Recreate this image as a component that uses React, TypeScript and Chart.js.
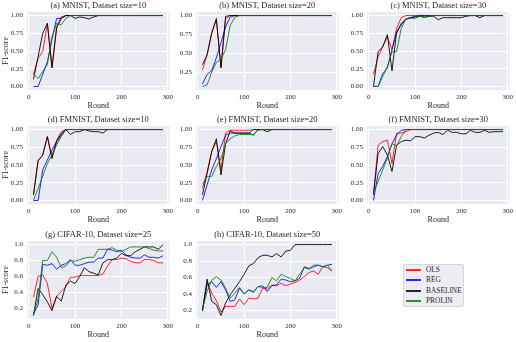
import React, { useEffect, useRef } from "react";
import { Chart, registerables } from "chart.js";

Chart.register(...registerables);

// ---------------- data ----------------
const ROUNDS = [10, 20, 30, 40, 50, 60, 70, 80, 90, 100, 110, 120, 130, 140, 150, 160, 170, 180, 190, 200, 210, 220, 230, 240, 250, 260, 270, 280, 290];
const X_TICKS = [0, 100, 200, 300];
const Y_TICKS_F1 = [0, 0.25, 0.5, 0.75, 1.0];
const Y_TICKS_CIFAR = [0.2, 0.4, 0.6, 0.8, 1.0];
const SERIES_NAMES = ["OLS", "REG", "BASELINE", "PROLIN"];
const TITLES = [
  "(a) MNIST, Dataset size=10",
  "(b) MNIST, Dataset size=20",
  "(c) MNIST, Dataset size=30",
  "(d) FMNIST, Dataset size=10",
  "(e) FMNIST, Dataset size=20",
  "(f) FMNIST, Dataset size=30",
  "(g) CIFAR-10, Dataset size=25",
  "(h) CIFAR-10, Dataset size=50",
];

const A_OLS = [0.17, 0.40, 0.49, 0.89, 0.28, 0.84, 0.98, 1, 1, 1, 1, 1, 1, 1, 1, 1, 1, 1, 1, 1, 1, 1, 1, 1, 1, 1, 1, 1, 1];
const A_REG = [0, 0, 0.17, 0.35, 0.66, 0.96, 0.96, 1, 1, 1, 1, 1, 1, 1, 1, 1, 1, 1, 1, 1, 1, 1, 1, 1, 1, 1, 1, 1, 1];
const A_BASE = [0.10, 0.42, 0.75, 0.89, 0.26, 0.82, 0.96, 1, 1, 0.96, 0.98, 0.97, 0.95, 0.98, 1, 1, 1, 1, 1, 1, 1, 1, 1, 1, 1, 1, 1, 1, 1];
const A_PROLIN = [0.18, 0.11, 0.21, 0.31, 0.70, 0.89, 0.87, 0.96, 1, 1, 1, 1, 1, 1, 1, 1, 1, 1, 1, 1, 1, 1, 1, 1, 1, 1, 1, 1, 1];

const B_OLS = [0.28, 0.48, 0.77, 0.94, 0.31, 0.96, 1, 1, 1, 1, 1, 1, 1, 1, 1, 1, 1, 1, 1, 1, 1, 1, 1, 1, 1, 1, 1, 1, 1];
const B_REG = [0.09, 0.22, 0.27, 0.44, 0.64, 0.85, 0.98, 1, 1, 1, 1, 1, 1, 1, 1, 1, 1, 1, 1, 1, 1, 1, 1, 1, 1, 1, 1, 1, 1];
const B_BASE = [0.35, 0.48, 0.77, 0.96, 0.31, 0.99, 1, 1, 1, 1, 1, 1, 1, 1, 1, 1, 1, 1, 1, 1, 1, 1, 1, 1, 1, 1, 1, 1, 1];
const B_PROLIN = [0.06, 0.08, 0.25, 0.38, 0.42, 0.55, 0.87, 0.98, 1, 1, 1, 1, 1, 1, 1, 1, 1, 1, 1, 1, 1, 1, 1, 1, 1, 1, 1, 1, 1];

const C_OLS = [0.17, 0.42, 0.56, 0.70, 0.52, 0.82, 0.97, 1, 1, 1, 1, 1, 1, 1, 1, 1, 1, 1, 1, 1, 1, 1, 1, 1, 1, 1, 1, 1, 1];
const C_REG = [0, 0, 0.18, 0.26, 0.52, 0.75, 0.89, 0.95, 0.97, 0.99, 1, 1, 1, 1, 1, 1, 1, 1, 1, 1, 1, 1, 1, 1, 1, 1, 1, 1, 1];
const C_BASE = [0, 0.49, 0.56, 0.73, 0.22, 0.77, 0.87, 0.95, 0.97, 0.98, 0.99, 0.98, 0.99, 0.99, 0.94, 0.97, 0.97, 0.97, 0.97, 0.97, 0.99, 1, 1, 0.97, 1, 1, 1, 1, 1];
const C_PROLIN = [0, 0, 0.14, 0.28, 0.49, 0.49, 0.82, 0.95, 0.96, 0.96, 0.99, 0.97, 0.99, 1, 1, 1, 1, 1, 1, 1, 1, 1, 1, 1, 1, 1, 1, 1, 1];

const D_OLS = [0.08, 0.56, 0.64, 0.90, 0.62, 0.85, 0.97, 1, 1, 1, 1, 1, 1, 1, 1, 1, 1, 1, 1, 1, 1, 1, 1, 1, 1, 1, 1, 1, 1];
const D_REG = [0, 0, 0.43, 0.57, 0.71, 0.83, 0.92, 1, 1, 1, 1, 1, 1, 1, 1, 1, 1, 1, 1, 1, 1, 1, 1, 1, 1, 1, 1, 1, 1];
const D_BASE = [0.08, 0.56, 0.64, 0.90, 0.59, 0.83, 0.94, 1, 0.93, 0.97, 0.97, 1, 0.98, 0.97, 0.97, 0.95, 1, 1, 1, 1, 1, 1, 1, 1, 1, 1, 1, 1, 1];
const D_PROLIN = [0, 0.17, 0.34, 0.52, 0.64, 0.78, 0.90, 1, 1, 1, 1, 1, 1, 1, 1, 1, 1, 1, 1, 1, 1, 1, 1, 1, 1, 1, 1, 1, 1];

const E_OLS = [0.17, 0.40, 0.69, 0.83, 0.43, 0.95, 0.99, 0.99, 0.99, 0.99, 0.99, 1, 1, 1, 1, 1, 1, 1, 1, 1, 1, 1, 1, 1, 1, 1, 1, 1, 1];
const E_REG = [0, 0.22, 0.43, 0.59, 0.76, 0.92, 0.95, 0.95, 0.95, 0.95, 0.95, 1, 1, 1, 1, 1, 1, 1, 1, 1, 1, 1, 1, 1, 1, 1, 1, 1, 1];
const E_BASE = [0.08, 0.38, 0.69, 0.87, 0.36, 0.80, 0.98, 0.95, 0.95, 0.95, 0.95, 0.92, 1, 1, 0.97, 1, 1, 1, 1, 1, 1, 1, 1, 1, 1, 1, 1, 1, 1];
const E_PROLIN = [0.23, 0.34, 0.34, 0.48, 0.59, 0.80, 0.87, 0.91, 0.93, 0.93, 0.93, 0.93, 0.99, 1, 1, 1, 1, 1, 1, 1, 1, 1, 1, 1, 1, 1, 1, 1, 1];

const F_OLS = [0.08, 0.78, 0.83, 0.85, 0.52, 0.95, 0.95, 0.97, 1, 1, 1, 1, 1, 1, 1, 1, 1, 1, 1, 1, 1, 1, 1, 1, 1, 1, 1, 1, 1];
const F_REG = [0, 0.38, 0.48, 0.62, 0.80, 0.92, 0.99, 1, 1, 1, 1, 1, 1, 1, 1, 1, 1, 1, 1, 1, 1, 1, 1, 1, 1, 1, 1, 1, 1];
const F_BASE = [0.08, 0.66, 0.76, 0.64, 0.41, 0.78, 0.83, 0.85, 0.84, 0.90, 0.90, 0.88, 0.92, 0.95, 0.96, 0.93, 0.99, 0.96, 0.96, 0.94, 0.94, 0.99, 0.96, 0.96, 0.99, 0.96, 0.97, 0.97, 0.97];
const F_PROLIN = [0.10, 0.27, 0.43, 0.60, 0.80, 0.77, 0.90, 1, 1, 1, 1, 1, 1, 1, 1, 1, 1, 1, 1, 1, 1, 1, 1, 1, 1, 1, 1, 1, 1];

const G_OLS = [0.34, 0.60, 0.62, 0.51, 0.20, 0.35, 0.41, 0.47, 0.59, 0.59, 0.61, 0.61, 0.61, 0.61, 0.61, 0.63, 0.73, 0.81, 0.81, 0.83, 0.82, 0.79, 0.77, 0.77, 0.81, 0.81, 0.80, 0.77, 0.77];
const G_REG = [0.13, 0.24, 0.75, 0.74, 0.76, 0.69, 0.74, 0.76, 0.81, 0.74, 0.74, 0.76, 0.78, 0.78, 0.83, 0.83, 0.94, 0.93, 0.91, 0.93, 0.87, 0.84, 0.83, 0.83, 0.87, 0.84, 0.84, 0.83, 0.86];
const G_BASE = [0.11, 0.45, 0.37, 0.28, 0.17, 0.35, 0.29, 0.49, 0.54, 0.51, 0.60, 0.71, 0.66, 0.64, 0.62, 0.77, 0.81, 0.81, 0.83, 0.89, 0.86, 0.86, 0.91, 0.94, 0.97, 0.97, 0.97, 0.94, 1.0];
const G_PROLIN = [0.11, 0.32, 0.80, 0.80, 0.91, 0.84, 0.71, 0.73, 0.80, 0.79, 0.81, 0.83, 0.84, 0.84, 0.94, 0.94, 0.94, 0.96, 0.93, 0.91, 0.94, 0.97, 0.97, 0.97, 0.97, 0.95, 0.93, 0.92, 0.92];

const H_OLS = [0.20, 0.55, 0.41, 0.32, 0.18, 0.25, 0.25, 0.25, 0.34, 0.27, 0.35, 0.34, 0.35, 0.47, 0.46, 0.51, 0.50, 0.53, 0.50, 0.52, 0.54, 0.57, 0.61, 0.66, 0.68, 0.64, 0.73, 0.72, 0.68];
const H_REG = [0.20, 0.51, 0.55, 0.48, 0.55, 0.45, 0.31, 0.33, 0.47, 0.40, 0.45, 0.42, 0.49, 0.50, 0.43, 0.50, 0.51, 0.58, 0.57, 0.55, 0.56, 0.59, 0.73, 0.71, 0.73, 0.75, 0.73, 0.75, 0.76];
const H_BASE = [0.20, 0.58, 0.31, 0.27, 0.14, 0.29, 0.39, 0.47, 0.55, 0.64, 0.74, 0.77, 0.84, 0.87, 0.87, 0.85, 0.89, 0.85, 0.92, 0.93, 1, 1, 1, 1, 1, 1, 1, 1, 1];
const H_PROLIN = [0.22, 0.43, 0.57, 0.61, 0.57, 0.47, 0.35, 0.41, 0.48, 0.40, 0.45, 0.43, 0.49, 0.48, 0.48, 0.60, 0.56, 0.64, 0.61, 0.59, 0.56, 0.64, 0.72, 0.70, 0.75, 0.75, 0.73, 0.75, 0.68];

// ---------------- panel configuration ----------------
type PanelCfg = {
  title: string;
  series: number[][];
  yTicks: number[];
  decimals: number;
  row: number;
  col: number;
};

const PANELS: PanelCfg[] = [
  { title: TITLES[0], series: [A_OLS, A_REG, A_BASE, A_PROLIN], yTicks: Y_TICKS_F1, decimals: 2, row: 0, col: 0 },
  { title: TITLES[1], series: [B_OLS, B_REG, B_BASE, B_PROLIN], yTicks: Y_TICKS_F1, decimals: 2, row: 0, col: 1 },
  { title: TITLES[2], series: [C_OLS, C_REG, C_BASE, C_PROLIN], yTicks: Y_TICKS_F1, decimals: 2, row: 0, col: 2 },
  { title: TITLES[3], series: [D_OLS, D_REG, D_BASE, D_PROLIN], yTicks: Y_TICKS_F1, decimals: 2, row: 1, col: 0 },
  { title: TITLES[4], series: [E_OLS, E_REG, E_BASE, E_PROLIN], yTicks: Y_TICKS_F1, decimals: 2, row: 1, col: 1 },
  { title: TITLES[5], series: [F_OLS, F_REG, F_BASE, F_PROLIN], yTicks: Y_TICKS_F1, decimals: 2, row: 1, col: 2 },
  { title: TITLES[6], series: [G_OLS, G_REG, G_BASE, G_PROLIN], yTicks: Y_TICKS_CIFAR, decimals: 1, row: 2, col: 0 },
  { title: TITLES[7], series: [H_OLS, H_REG, H_BASE, H_PROLIN], yTicks: Y_TICKS_CIFAR, decimals: 1, row: 2, col: 1 },
];

const COLORS = ["rgba(255,0,0,0.85)", "rgba(0,0,255,0.85)", "rgba(0,0,0,0.88)", "rgba(0,128,0,0.85)"];
const LEGEND_COLORS = ["#ff2626", "#2626ff", "#262626", "#26932a"];
const FONT = "'Liberation Serif', 'Times New Roman', serif";
const TEXT = "#262626";
const BG = "#EAEAF2";

const PLOT_LEFT = [27, 196, 367];
const PLOT_TOP = [12, 126, 241];
const PLOT_W = 143;
const PLOT_H = 78;
const AXIS_W = 27;
const TITLE_SPACE = 12;
const XAXIS_H = 21;
const RIGHT_PAD = 6;

const bgPlugin = {
  id: "bgArea",
  beforeDraw(chart: any) {
    const { ctx, chartArea } = chart;
    ctx.save();
    ctx.fillStyle = BG;
    ctx.fillRect(chartArea.left, chartArea.top, chartArea.right - chartArea.left, chartArea.bottom - chartArea.top);
    ctx.restore();
  },
};

function Panel({ panel }: { panel: PanelCfg }) {
  const ref = useRef<HTMLCanvasElement | null>(null);
  const width = AXIS_W + PLOT_W + RIGHT_PAD;
  const height = TITLE_SPACE + PLOT_H + XAXIS_H;

  useEffect(() => {
    if (!ref.current) return;
    const all = panel.series.flat();
    const ymin = Math.min(...all);
    const ymax = Math.max(...all);
    const ym = (ymax - ymin) * 0.05;
    const xmin0 = Math.min(...ROUNDS);
    const xmax0 = Math.max(...ROUNDS);
    const xm = (xmax0 - xmin0) * 0.05;

    const titlePlugin = {
      id: "panelTitle",
      afterDraw(chart: any) {
        const { ctx, chartArea } = chart;
        ctx.save();
        ctx.font = `8.5px ${FONT}`;
        ctx.fillStyle = TEXT;
        ctx.textAlign = "center";
        ctx.textBaseline = "middle";
        ctx.fillText(panel.title, (chartArea.left + chartArea.right) / 2, chartArea.top - 6);
        ctx.restore();
      },
    };

    const chart = new Chart(ref.current, {
      type: "line",
      data: {
        datasets: panel.series.map((vals, i) => ({
          label: SERIES_NAMES[i],
          data: ROUNDS.map((r, j) => ({ x: r, y: vals[j] })),
          borderColor: COLORS[i],
          backgroundColor: COLORS[i],
          borderWidth: 1,
          pointRadius: 0,
          tension: 0,
          fill: false,
          order: 3 - i,
        })),
      },
      options: {
        responsive: false,
        animation: false,
        devicePixelRatio: 1,
        layout: { padding: { top: TITLE_SPACE, right: RIGHT_PAD, left: 0, bottom: 0 } },
        plugins: {
          legend: { display: false },
          tooltip: { enabled: false },
          title: { display: false },
        },
        scales: {
          x: {
            type: "linear",
            min: xmin0 - xm,
            max: xmax0 + xm,
            afterBuildTicks: (s: any) => {
              s.ticks = X_TICKS.filter((v) => v >= s.min && v <= s.max).map((v) => ({ value: v }));
            },
            afterFit: (s: any) => {
              s.height = XAXIS_H;
            },
            grid: { color: "#ffffff", lineWidth: 1, drawTicks: false },
            border: { display: false },
            ticks: {
              padding: 3,
              color: TEXT,
              font: { family: FONT, size: 7 },
              maxRotation: 0,
              autoSkip: false,
              callback: (v: any) => String(v),
            },
            title: { display: true, text: "Round", color: TEXT, font: { family: FONT, size: 8 }, padding: 0 },
          },
          y: {
            type: "linear",
            min: ymin - ym,
            max: ymax + ym,
            afterBuildTicks: (s: any) => {
              s.ticks = panel.yTicks.filter((v) => v >= s.min && v <= s.max).map((v) => ({ value: v }));
            },
            afterFit: (s: any) => {
              s.width = AXIS_W;
            },
            grid: { color: "#ffffff", lineWidth: 1, drawTicks: false },
            border: { display: false },
            ticks: {
              padding: 4,
              color: TEXT,
              font: { family: FONT, size: 7 },
              autoSkip: false,
              callback: (v: any) => Number(v).toFixed(panel.decimals),
            },
            title: {
              display: panel.col === 0,
              text: "F1-score",
              color: TEXT,
              font: { family: FONT, size: 8 },
              padding: { top: 1, bottom: 0 },
            },
          },
        },
      } as any,
      plugins: [bgPlugin, titlePlugin],
    });
    return () => chart.destroy();
  }, [panel]);

  return (
    <canvas
      ref={ref}
      width={width}
      height={height}
      style={{
        position: "absolute",
        left: PLOT_LEFT[panel.col] - AXIS_W,
        top: PLOT_TOP[panel.row] - TITLE_SPACE,
        width,
        height,
      }}
    />
  );
}

function Legend() {
  return (
    <div
      style={{
        position: "absolute",
        left: 403,
        top: 264,
        width: 61,
        height: 43,
        background: "#EDEDF3",
        border: "1px solid #d6d6dc",
        borderRadius: 2,
        boxSizing: "border-box",
        fontFamily: FONT,
        fontSize: 7.4,
        color: TEXT,
      }}
    >
      {SERIES_NAMES.map((name, i) => {
        const lineTop = Math.round(4 + i * 10.3);
        return (
          <React.Fragment key={name}>
            <div
              style={{
                position: "absolute",
                left: 2,
                top: lineTop,
                width: 15,
                height: 2,
                backgroundColor: LEGEND_COLORS[i],
              }}
            />
            <div
              style={{
                position: "absolute",
                left: 22,
                top: lineTop - 4,
                height: 10,
                lineHeight: "10px",
                whiteSpace: "nowrap",
              }}
            >
              {name}
            </div>
          </React.Fragment>
        );
      })}
    </div>
  );
}

export default function App() {
  return (
    <div style={{ position: "absolute", left: 0, top: 0, width: 516, height: 342, background: "#ffffff", overflow: "hidden" }}>
      {PANELS.map((p) => (
        <Panel key={p.title} panel={p} />
      ))}
      <Legend />
    </div>
  );
}
